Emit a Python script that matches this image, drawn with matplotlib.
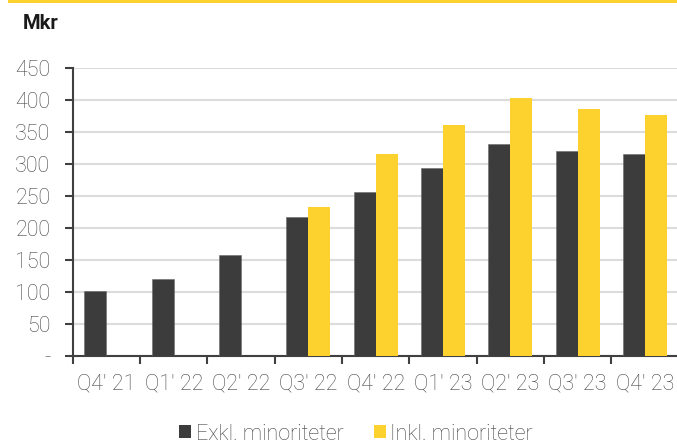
import matplotlib
matplotlib.use("Agg")
import matplotlib.pyplot as plt
import numpy as np
from matplotlib.patches import Rectangle, Patch

plt.rcParams['font.family'] = ['Roboto', 'DejaVu Sans']

quarters = ["Q4' 21", "Q1' 22", "Q2' 22", "Q3' 22", "Q4' 22",
            "Q1' 23", "Q2' 23", "Q3' 23", "Q4' 23"]
exkl = [102, 121, 158, 217, 257, 293, 331, 321, 315]
inkl = [None, None, None, 233, 316, 361, 403, 386, 377]
y_ticks = [0, 50, 100, 150, 200, 250, 300, 350, 400, 450]
y_labels = ["-", "50", "100", "150", "200", "250", "300", "350", "400", "450"]

DARK = "#3c3c3c"
YELLOW = "#fdd22f"
TEXT = "#454545"
AXIS = "#404040"

W, H = 677, 443
fig = plt.figure(figsize=(W / 100, H / 100), dpi=100)
ax = fig.add_axes([72.7 / W, 1 - 356 / H, 606 / W, 288 / H])

x = np.arange(len(quarters))
bw = 0.327
ax.bar(x - bw / 2, exkl, bw, color=DARK, edgecolor="#6a6a6a", linewidth=0.4, zorder=3)
inkl_x = [xi for xi, v in zip(x, inkl) if v is not None]
inkl_v = [v for v in inkl if v is not None]
ax.bar(np.array(inkl_x) + bw / 2, inkl_v, bw, color=YELLOW, linewidth=0, zorder=3)

ax.set_xlim(-0.5, len(quarters) - 0.5)
ax.set_ylim(0, 450)
ax.set_yticks(y_ticks)
ax.set_yticklabels(y_labels)
ax.yaxis.grid(True, color="#dcdcdc", linewidth=1.5, zorder=0)
ax.set_axisbelow(True)

ax.set_xticks(x)
ax.set_xticklabels(quarters)
ax.set_xticks(np.arange(len(quarters) + 1) - 0.5, minor=True)
ax.tick_params(axis="x", which="major", length=0, pad=12.5,
               labelsize=15.5, labelcolor=TEXT)
ax.tick_params(axis="x", which="minor", length=6, width=1.5, color=AXIS, direction="out")
ax.tick_params(axis="y", length=6, width=1.5, color=AXIS, direction="out",
               pad=10, labelsize=15.5, labelcolor=TEXT)
for lab in ax.get_xticklabels() + ax.get_yticklabels():
    lab.set_fontweight("light")

for side in ["top", "right"]:
    ax.spines[side].set_visible(False)
for side in ["left", "bottom"]:
    ax.spines[side].set_color(AXIS)
    ax.spines[side].set_linewidth(1.5)

fig.text(23 / W, 1 - 29 / H, "Mkr", fontsize=14.5, fontweight="bold",
         color="#1a1a1a", va="baseline", ha="left")

# thin accent line along the top edge
fig.patches.append(Rectangle((8 / W, 1 - 2.5 / H), 1, 2.5 / H, transform=fig.transFigure,
                             facecolor=YELLOW, edgecolor="none"))

handles = [Patch(facecolor=DARK, label="Exkl. minoriteter"),
           Patch(facecolor=YELLOW, label="Inkl. minoriteter")]
leg = fig.legend(handles=handles, loc="center", bbox_to_anchor=(356 / W, 1 - 434 / H),
                 ncol=2, frameon=False, fontsize=15.5, handlelength=0.56, handleheight=0.56,
                 handletextpad=0.2, columnspacing=1.4, borderpad=0)
for t in leg.get_texts():
    t.set_color(TEXT)
    t.set_fontweight("light")

fig.savefig("out.png", dpi=100)
